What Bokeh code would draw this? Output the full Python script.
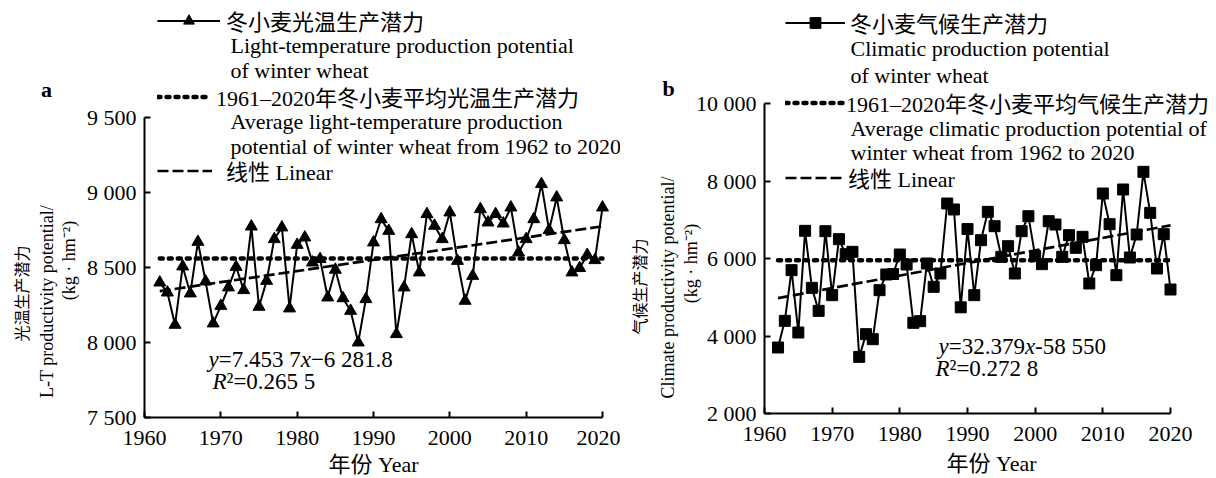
import numpy as np
from math import pi
from bokeh.plotting import figure
from bokeh.models import Legend, LegendItem, Label, ColumnDataSource, Range1d
from bokeh.layouts import row
from bokeh.embed import file_html
from bokeh.resources import INLINE
from bokeh.core.properties import value

# ---------------- data ----------------
YEARS = list(range(1962, 2021))
LT_POTENTIAL = [8400, 8333, 8118, 8507, 8327, 8671, 8407, 8127, 8244, 8367,
                8504, 8349, 8773, 8238, 8411, 8689, 8767, 8227, 8651, 8700,
                8533, 8556, 8300, 8485, 8295, 8211, 8000, 8289, 8667, 8822,
                8744, 8056, 8367, 8722, 8467, 8856, 8778, 8689, 8867, 8544,
                8278, 8444, 8889, 8800, 8856, 8793, 8900, 8600, 8689, 8822,
                9056, 8749, 8967, 8682, 8467, 8496, 8584, 8549, 8900]
CLIM_POTENTIAL = [3703, 4391, 5699, 4090, 6714, 5243, 4649, 6705, 5054, 6499,
                  6112, 6172, 3462, 4047, 3918, 5183, 5587, 5600, 6103, 5845,
                  4340, 4383, 5871, 5269, 5613, 7419, 7265, 4740, 6760, 5054,
                  6473, 7204, 6834, 6043, 6318, 5613, 6705, 7092, 6060, 5854,
                  6963, 6877, 6043, 6602, 6275, 6559, 5355, 5828, 7677, 6886,
                  5570, 7781, 6026, 6619, 8237, 7178, 5742, 6628, 5200]
LT_MEAN = 8560
CLIM_MEAN = 5955
LT_TREND = (7.4537, -6281.8)
CLIM_TREND = (32.379, -58550.0)

X_TICKS = [1960, 1970, 1980, 1990, 2000, 2010, 2020]
LT_TICKS = [7500, 8000, 8500, 9000, 9500]
LT_TICK_LABELS = ["7 500", "8 000", "8 500", "9 000", "9 500"]
CLIM_TICKS = [2000, 4000, 6000, 8000, 10000]
CLIM_TICK_LABELS = ["2 000", "4 000", "6 000", "8 000", "10 000"]

SERIF = "'Liberation Serif', 'Noto Sans CJK SC'"
FIG_H = 478


def make_panel(cfg):
    # geometry in page pixels; the whole canvas is the plotting frame and the
    # axes are pinned (fixed_location) where the reference draws them
    fig_l, fig_w = cfg["fig_left"], cfg["fig_width"]
    ax_l, ax_r, ax_b = cfg["axis_left"], cfg["axis_right"], cfg["axis_bottom"]
    y0, y1 = cfg["yticks"][0], cfg["yticks"][-1]
    ppu = (ax_b - cfg["ytick_top_px"]) / (y1 - y0)   # px per value unit
    ppy = (ax_r - ax_l) / 60.0                         # px per year

    def X(px):
        return 1960 + (px - ax_l) / ppy

    def Y(py):
        return y0 + (ax_b - py) / ppu

    p = figure(frame_width=fig_w, frame_height=FIG_H,
               min_border_left=0, min_border_right=0,
               min_border_top=0, min_border_bottom=0,
               x_range=Range1d(X(fig_l), X(fig_l + fig_w)),
               y_range=Range1d(Y(FIG_H), Y(0)),
               output_backend="svg", toolbar_location=None)
    p.outline_line_color = None
    p.grid.visible = False
    p.background_fill_color = "white"
    p.border_fill_color = "white"

    for ax in (p.xaxis[0], p.yaxis[0]):
        ax.axis_line_width = 2
        ax.axis_line_color = "black"
        ax.major_tick_line_width = 2
        ax.major_tick_line_color = "black"
        ax.major_tick_in = 6
        ax.major_tick_out = 0
        ax.minor_tick_line_color = None
        ax.major_label_text_font = SERIF
        ax.major_label_text_font_size = "22px"
        ax.major_label_text_color = "black"
    p.xaxis.ticker = X_TICKS
    p.xaxis.bounds = (1960, 2020)
    p.xaxis.fixed_location = y0
    p.xaxis.major_label_standoff = 13
    p.yaxis.ticker = cfg["yticks"]
    p.yaxis.bounds = (y0, y1)
    p.yaxis.fixed_location = 1960
    p.yaxis.major_label_standoff = 8
    p.yaxis.major_label_overrides = dict(zip(cfg["yticks"], cfg["ylabels"]))

    src = ColumnDataSource(dict(year=YEARS, v=cfg["values"]))
    data_line = p.line("year", "v", source=src, line_color="black", line_width=2)
    mean_r = p.line([YEARS[0], YEARS[-1]], [cfg["mean"], cfg["mean"]],
                    line_color="black", line_width=4.5, line_dash="3 6", line_cap="round")
    tx = np.array([YEARS[0], YEARS[-1]], dtype=float)
    slope, icpt = cfg["trend"]
    trend_r = p.line(tx, slope * tx + icpt, line_color="black", line_width=2.7,
                     line_dash="11 4")
    marks = p.scatter("year", "v", source=src, marker=cfg["marker"], size=cfg["msize"],
                      fill_color="black", line_color="black")

    # legends: one per entry so that each row sits exactly where it should
    H = 36
    rows = [
        (cfg["leg_labels"][0], [data_line, marks], cfg["leg_rows"][0]),
        (cfg["leg_labels"][1], [mean_r], cfg["leg_rows"][1]),
        (cfg["leg_labels"][2], [trend_r], cfg["leg_rows"][2]),
    ]
    for (txt, rends, (cy, gw, stand)) in rows:
        leg = Legend(items=[LegendItem(label=value(txt), renderers=rends)],
                     location=(cfg["leg_x"] - fig_l, (FIG_H - cy) - H / 2),
                     padding=0, margin=0, spacing=0,
                     glyph_width=gw, glyph_height=27, label_height=H,
                     label_standoff=stand,
                     label_text_font=SERIF, label_text_font_size="22px",
                     label_text_color="black",
                     border_line_color=None, background_fill_alpha=0)
        p.add_layout(leg)

    def lab(px, py, text, size="22px", style="normal", align="left", angle=0.0):
        p.add_layout(Label(x=X(px), y=Y(py), text=text, text_font=SERIF,
                           text_font_size=size, text_font_style=style,
                           text_align=align, text_baseline="middle",
                           text_color="black", angle=angle))

    for (px, py, t) in cfg["extra_lines"]:
        lab(px, py, t)
    lab(cfg["letter"][0], cfg["letter"][1], cfg["letter"][2], style="bold", align="center")
    for (px, py, t, s) in cfg["ytitle"]:
        lab(px, py, t, size=s, align="center", angle=pi / 2)
    lab(cfg["xtitle"][0], cfg["xtitle"][1], "年份 Year", align="center")
    for (px, py, t, st) in cfg["equation"]:
        lab(px, py, t, size="23px", style=st)
    return p


cfg_a = dict(
    fig_left=0, fig_width=620, axis_left=144, axis_right=602, axis_bottom=417,
    yticks=LT_TICKS, ylabels=LT_TICK_LABELS, ytick_top_px=117,
    values=LT_POTENTIAL, mean=LT_MEAN, trend=LT_TREND, marker="triangle", msize=12,
    leg_labels=["冬小麦光温生产潜力", "1961–2020年冬小麦平均光温生产潜力", "线性 Linear"],
    leg_x=157, leg_rows=[(20, 63, 6), (96, 52, 7), (170, 55, 14)],
    extra_lines=[(230, 45, "Light-temperature production potential"),
                 (230, 70, "of winter wheat"),
                 (230, 121, "Average light-temperature production"),
                 (230, 146, "potential of winter wheat from 1962 to 2020")],
    letter=(46, 89, "a"),
    ytitle=[(22, 293, "光温生产潜力", "16px"),
            (46, 301, "L-T productivity potential/", "18px"),
            (68, 260, "(kg · hm⁻²)", "18px")],
    xtitle=(373, 464),
    equation=[(208, 359, "y", "italic"), (218.2, 359, "=7.453 7", "normal"),
              (300.2, 359, "x", "italic"), (310.4, 359, "−6 281.8", "normal"),
              (212, 381, "R", "italic"), (226, 381, "²=0.265 5", "normal")],
)

cfg_b = dict(
    fig_left=620, fig_width=594, axis_left=764, axis_right=1170, axis_bottom=413,
    yticks=CLIM_TICKS, ylabels=CLIM_TICK_LABELS, ytick_top_px=103,
    values=CLIM_POTENTIAL, mean=CLIM_MEAN, trend=CLIM_TREND, marker="square", msize=11,
    leg_labels=["冬小麦气候生产潜力", "1961–2020年冬小麦平均气候生产潜力", "线性 Linear"],
    leg_x=785, leg_rows=[(22, 60, 5), (102, 60, 1), (177, 57, 6)],
    extra_lines=[(850, 48, "Climatic production potential"),
                 (850, 75, "of winter wheat"),
                 (850, 128, "Average climatic production potential of"),
                 (850, 152, "winter wheat from 1962 to 2020")],
    letter=(668, 88, "b"),
    ytitle=[(640, 286, "气候生产潜力", "16px"),
            (667, 287, "Climate productivity potential/", "18px"),
            (690, 263, "(kg · hm⁻²)", "18px")],
    xtitle=(991, 463),
    equation=[(938, 346, "y", "italic"), (948.2, 346, "=32.379", "normal"),
              (1024.4, 346, "x", "italic"), (1034.6, 346, "-58 550", "normal"),
              (935, 368, "R", "italic"), (949, 368, "²=0.272 8", "normal")],
)

pa = make_panel(cfg_a)
pb = make_panel(cfg_b)
layout = row(pa, pb)
open("out.html", "w").write(file_html(layout, INLINE))
